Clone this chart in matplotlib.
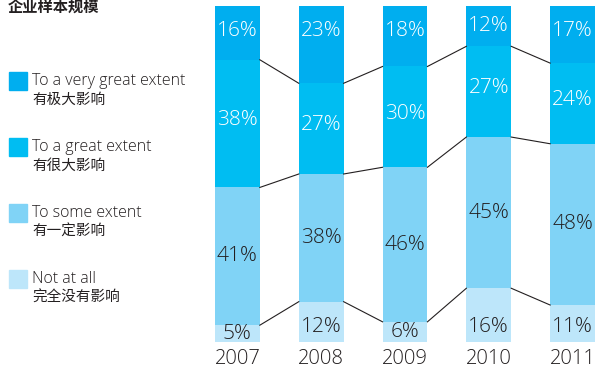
import numpy as np
import matplotlib
matplotlib.use("Agg")
import matplotlib.pyplot as plt
from matplotlib.patches import Rectangle

# data (percent), stacked bottom -> top
years = ["2007", "2008", "2009", "2010", "2011"]
not_at_all = [5, 12, 6, 16, 11]
some_extent = [41, 38, 46, 45, 48]
great_extent = [38, 27, 30, 27, 24]
very_great = [16, 23, 18, 12, 17]

series = [not_at_all, some_extent, great_extent, very_great]
colors = ["#bde6fa", "#80d3f6", "#00bdf2", "#00aeef"]
label_colors = ["#231f20", "#231f20", "white", "white"]

legend_en = ["To a very great extent", "To a great extent", "To some extent", "Not at all"]
legend_cn = ["有极大影响", "有很大影响", "有一定影响", "完全没有影响"]
legend_colors = ["#00aeef", "#00bdf2", "#80d3f6", "#bde6fa"]
title = "企业样本规模"

plt.rcParams['font.family'] = ['Open Sans', 'Noto Sans CJK SC', 'DejaVu Sans']
cn_font = ['Noto Sans CJK SC', 'DejaVu Sans']
wt = 300

W, H = 596, 370
fig = plt.figure(figsize=(W / 100, H / 100), dpi=100)
ax = fig.add_axes([215 / W, 1 - 342 / H, (595 - 215) / W, (342 - 6) / H])

bar_w = 0.535
x = np.arange(len(years))
bottom = np.zeros(len(years))
tops = []
for k, vals in enumerate(series):
    vals = np.array(vals, dtype=float)
    ax.bar(x, vals, bottom=bottom, width=bar_w, color=colors[k], linewidth=0)
    for i, v in enumerate(vals):
        if k == 0:
            y = bottom[i] + min(v / 2, 4.5)
        elif k == len(series) - 1:
            y = bottom[i] + v - min(v / 2, 7.5)
        elif k == 2:
            y = bottom[i] + v / 2 + 1
        else:
            y = bottom[i] + v / 2
        ax.text(x[i], y, f"{int(v)}%", ha="center", va="center",
                fontsize=15, fontweight=wt, color=label_colors[k])
    bottom = bottom + vals
    tops.append(bottom.copy())

# connector lines between segment boundaries
for lvl in tops[:-1]:
    for i in range(len(years) - 1):
        ax.plot([x[i] + bar_w / 2, x[i + 1] - bar_w / 2], [lvl[i], lvl[i + 1]],
                color="#231f20", linewidth=0.8)

ax.set_xlim(-bar_w / 2, len(years) - 1 + bar_w / 2)
ax.set_ylim(0, 100)
ax.set_xticks(x)
ax.set_xticklabels(years, fontsize=14.5, fontweight=wt, color="#231f20")
ax.tick_params(axis="x", length=0, pad=5)
ax.set_yticks([])
for s in ax.spines.values():
    s.set_visible(False)

# title and legend
fig.text(8 / W, 1 - 6.5 / H, title, fontsize=11, fontweight="bold",
         family=cn_font, va="center", ha="left", color="#231f20")
for j in range(len(legend_en)):
    top = 72 + 66 * j
    fig.patches.append(Rectangle((9 / W, 1 - (top + 18) / H), 18 / W, 18 / H,
                                 transform=fig.transFigure, color=legend_colors[j]))
    fig.text(32 / W, 1 - (top + 9) / H, legend_en[j], fontsize=11.5,
             fontweight=wt, va="center", ha="left", color="#231f20")
    fig.text(32 / W, 1 - (top + 28) / H, legend_cn[j], fontsize=10.5,
             family=cn_font, va="center", ha="left", color="#231f20")

fig.savefig("out.png", dpi=100)
